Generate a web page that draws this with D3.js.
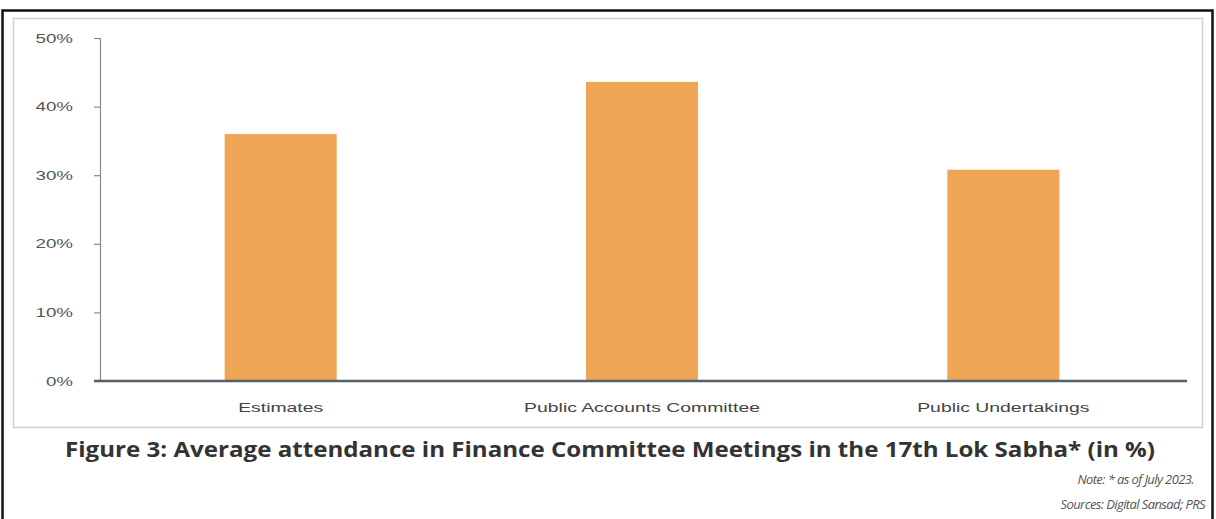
<!DOCTYPE html>
<html>
<head>
<meta charset="utf-8">
<script src="https://cdn.jsdelivr.net/npm/d3@7"></script>
<style>
  body { margin: 0; background: #fff; }
  svg { display: block; }
</style>
</head>
<body>
<div id="chart"></div>
<script>
// data
var categories = ["Estimates", "Public Accounts Committee", "Public Undertakings"];
var attendance = [36, 43.6, 30.8];
var yTicks = [0, 10, 20, 30, 40, 50];
var titleText = "Figure 3: Average attendance in Finance Committee Meetings in the 17th Lok Sabha* (in %)";
var noteText = "Note: * as of July 2023.";
var sourceText = "Sources: Digital Sansad; PRS";

var W = 1216, H = 519;
var margin = {top: 38, right: 32, bottom: 138, left: 100};
var width = W - margin.left - margin.right,
    height = H - margin.top - margin.bottom;

var svg = d3.select("#chart").append("svg")
    .attr("width", W)
    .attr("height", H);

// the source picture is stretched sideways, so widen the labels a bit
function widen(sel, k) {
  sel.each(function() {
    var len = this.getComputedTextLength();
    d3.select(this)
      .attr("textLength", len * k)
      .attr("lengthAdjust", "spacingAndGlyphs");
  });
}

// outer black frame (bottom runs off the page)
svg.append("rect")
    .attr("x", 2.5).attr("y", 10.5)
    .attr("width", 1210).attr("height", 530)
    .attr("fill", "none")
    .attr("stroke", "#111")
    .attr("stroke-width", 2.5);

// light chart box
svg.append("rect")
    .attr("x", 13.5).attr("y", 18.5)
    .attr("width", 1189).attr("height", 409)
    .attr("fill", "#fff")
    .attr("stroke", "#cfcfcf")
    .attr("stroke-width", 1.5);

var g = svg.append("g")
    .attr("transform", "translate(" + margin.left + "," + margin.top + ")");

var x = d3.scaleBand()
    .domain(categories)
    .range([0, width])
    .paddingInner(0.69)
    .paddingOuter(0.345);

var y = d3.scaleLinear()
    .domain([0, 50])
    .range([height, 0]);

// y axis
var yAxis = d3.axisLeft(y)
    .tickValues(yTicks)
    .tickSize(6)
    .tickPadding(21)
    .tickFormat(function(d) { return d + "%"; });

var yGroup = g.append("g")
    .attr("class", "axis axis--y")
    .call(yAxis);
yGroup.select(".domain").attr("stroke", "#8a8a8a").attr("stroke-width", 1.2);
yGroup.selectAll(".tick line").attr("stroke", "#8a8a8a").attr("stroke-width", 1.2);
yGroup.selectAll(".tick text")
    .attr("fill", "#555")
    .style("font-family", "'Liberation Sans', Arial, sans-serif")
    .style("font-size", "12.5px");
widen(yGroup.selectAll(".tick text"), 1.5);

// bars
g.selectAll("rect.bar")
    .data(attendance)
    .enter().append("rect")
    .attr("class", "bar")
    .attr("x", function(d, i) { return x(categories[i]); })
    .attr("y", function(d) { return y(d); })
    .attr("width", x.bandwidth())
    .attr("height", function(d) { return height - y(d); })
    .attr("fill", "#eea654");

// x axis
var xAxis = d3.axisBottom(x).tickSize(0).tickPadding(22);
var xGroup = g.append("g")
    .attr("class", "axis axis--x")
    .attr("transform", "translate(0," + height + ")")
    .call(xAxis);
xGroup.select(".domain")
    .attr("d", "M-6,0H" + (width + 3))
    .attr("stroke", "#56606a")
    .attr("stroke-width", 2.5);
xGroup.selectAll(".tick text")
    .attr("fill", "#444")
    .style("font-family", "'Liberation Sans', Arial, sans-serif")
    .style("font-size", "12.5px");
widen(xGroup.selectAll(".tick text"), 1.55);

// caption
svg.append("text")
    .attr("x", 65).attr("y", 457)
    .attr("textLength", 1090)
    .attr("lengthAdjust", "spacingAndGlyphs")
    .attr("fill", "#333")
    .style("font-family", "'Open Sans', sans-serif")
    .style("font-weight", "bold")
    .style("font-size", "21px")
    .text(titleText);

svg.append("text")
    .attr("x", 1194).attr("y", 484)
    .attr("text-anchor", "end")
    .attr("fill", "#555")
    .style("font-family", "'Open Sans', sans-serif")
    .style("font-style", "italic")
    .style("font-size", "13px")
    .style("letter-spacing", "-0.6px")
    .text(noteText);

svg.append("text")
    .attr("x", 1205).attr("y", 509)
    .attr("text-anchor", "end")
    .attr("fill", "#555")
    .style("font-family", "'Open Sans', sans-serif")
    .style("font-style", "italic")
    .style("font-size", "13px")
    .style("letter-spacing", "-0.6px")
    .text(sourceText);
</script>
</body>
</html>
